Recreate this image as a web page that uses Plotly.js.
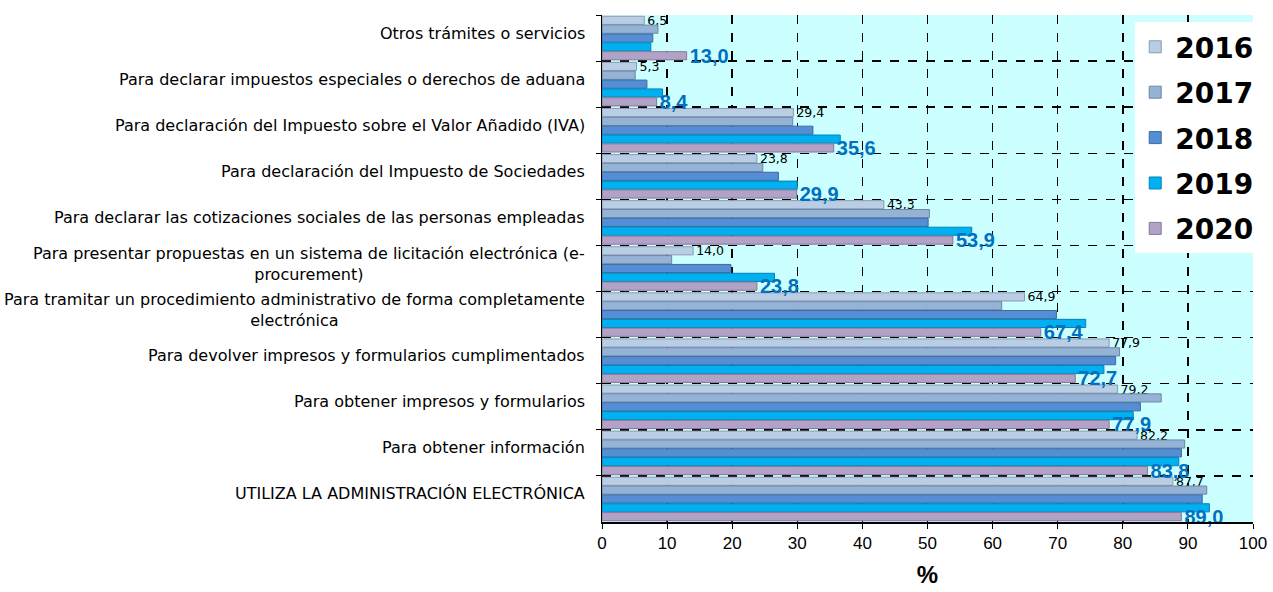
<!DOCTYPE html>
<html>
<head>
<meta charset="utf-8">
<script src="https://cdn.plot.ly/plotly-3.0.1.min.js"></script>
<style>
html,body{margin:0;padding:0;background:#fff;}
#chart{width:1273px;height:592px;}
</style>
</head>
<body>
<div id="chart"></div>
<script>
// Categories listed top to bottom
const categories = [
  "Otros trámites o servicios",
  "Para declarar impuestos especiales o derechos de aduana",
  "Para declaración del Impuesto sobre el Valor Añadido (IVA)",
  "Para declaración del Impuesto de Sociedades",
  "Para declarar las cotizaciones sociales de las personas empleadas",
  "Para presentar propuestas en un sistema de licitación electrónica (e-<br>procurement)",
  "Para tramitar un procedimiento administrativo de forma completamente<br>electrónica",
  "Para devolver impresos y formularios cumplimentados",
  "Para obtener impresos y formularios",
  "Para obtener información",
  "UTILIZA LA ADMINISTRACIÓN ELECTRÓNICA"
];
const years = ["2016", "2017", "2018", "2019", "2020"];
const v2016 = [6.5, 5.3, 29.4, 23.8, 43.3, 14.0, 64.9, 77.9, 79.2, 82.2, 87.7];
const v2017 = [8.6, 5.1, 29.3, 24.7, 50.3, 10.7, 61.4, 79.5, 85.9, 89.5, 92.9];
const v2018 = [7.8, 6.9, 32.4, 27.1, 50.1, 19.8, 69.8, 78.9, 82.7, 89.0, 92.2];
const v2019 = [7.5, 9.3, 36.6, 30.0, 56.8, 26.5, 74.3, 77.1, 81.6, 88.6, 93.3];
const v2020 = [13.0, 8.4, 35.6, 29.9, 53.9, 23.8, 67.4, 72.7, 77.9, 83.8, 89.0];
const colors = ["#B9CDE5", "#95B3D7", "#558ED5", "#00B0F0", "#B3A2C7"];
const lineColors = ["#8A9BB0", "#6F86A3", "#3D6AA0", "#0085B5", "#867996"];

const series = [v2016, v2017, v2018, v2019, v2020];
const fmt = v => v.toFixed(1).replace('.', ',');
const ARIAL = "Arial, 'Liberation Sans', sans-serif";
const WIDE = "'DejaVu Sans', Arial, sans-serif";

const traces = series.map((vals, i) => {
  const t = {
    type: 'bar',
    orientation: 'h',
    name: years[i],
    legendgroup: years[i],
    x: vals,
    y: categories,
    marker: {color: colors[i], line: {color: lineColors[i], width: 1}},
    hoverinfo: 'x+name',
    cliponaxis: false
  };
  if (i === 0) {
    t.text = vals.map(fmt);
    t.textposition = 'outside';
    t.constraintext = 'none';
    t.textfont = {family: WIDE, size: 12.5, color: '#000'};
  } else if (i === 4) {
    t.text = vals.map(fmt);
    t.textposition = 'outside';
    t.constraintext = 'none';
    t.textfont = {family: ARIAL, size: 20, color: '#0070C0', weight: 'bold'};
  } else {
    t.textposition = 'none';
  }
  return t;
});

const annotations = categories.map(c => ({
  xref: 'paper', yref: 'y', x: 0, y: c,
  xanchor: 'right', yanchor: 'middle', align: 'center',
  xshift: -15, yshift: 5,
  text: c, showarrow: false,
  font: {family: WIDE, size: 16, color: '#000'}
}));

const layout = {
  width: 1273, height: 592,
  margin: {l: 602, r: 20, t: 15, b: 70},
  paper_bgcolor: '#fff',
  plot_bgcolor: '#CCFFFF',
  barmode: 'group',
  bargap: 0.04,
  bargroupgap: 0.08,
  font: {family: ARIAL, color: '#000'},
  xaxis: {
    range: [0, 100], dtick: 10, tick0: 0,
    showgrid: true, gridcolor: '#000', griddash: 'dash', gridwidth: 1.5,
    zeroline: false, showline: true, linecolor: '#000', linewidth: 1.5,
    ticks: 'outside', ticklen: 5, tickcolor: '#000',
    tickfont: {family: ARIAL, size: 17, color: '#000'},
    title: {text: '%', font: {family: ARIAL, size: 24, color: '#000', weight: 'bold'}, standoff: 14},
    fixedrange: true
  },
  yaxis: {
    type: 'category',
    categoryorder: 'array', categoryarray: categories,
    autorange: 'reversed',
    tickson: 'boundaries',
    showticklabels: false,
    showgrid: true, gridcolor: '#000', griddash: 'dash', gridwidth: 1.5,
    showline: true, linecolor: '#000', linewidth: 1.5,
    ticks: 'outside', ticklen: 5, tickcolor: '#000',
    fixedrange: true
  },
  showlegend: true,
  legend: {
    x: 1.008, xanchor: 'right', y: 0.986, yanchor: 'top',
    bgcolor: '#fff', borderwidth: 0,
    traceorder: 'grouped', tracegroupgap: 6,
    font: {family: WIDE, size: 28, color: '#000', weight: 'bold'},
    itemclick: false, itemdoubleclick: false
  },
  annotations: annotations
};

Plotly.newPlot('chart', traces, layout, {displayModeBar: false, staticPlot: true});
</script>
</body>
</html>
